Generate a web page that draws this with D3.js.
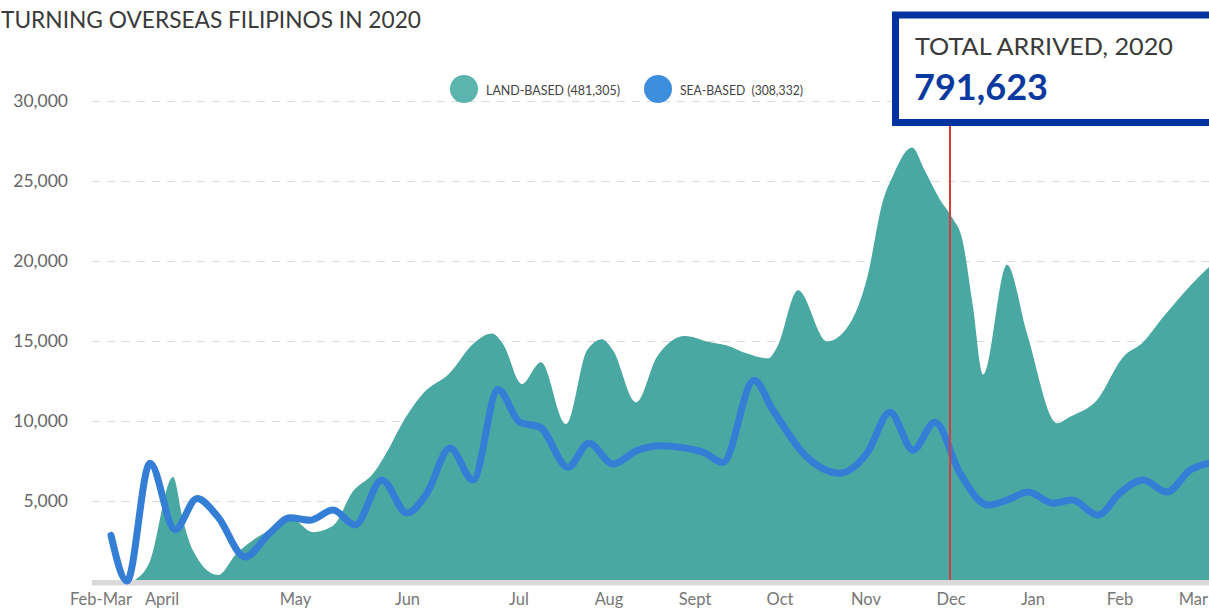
<!DOCTYPE html>
<html>
<head>
<meta charset="utf-8">
<script src="https://cdn.jsdelivr.net/npm/d3@7"></script>
<style>
  html, body { margin: 0; padding: 0; background: #fff; }
  svg { display: block; font-family: Lato, "Open Sans", sans-serif; }
</style>
</head>
<body>
<svg id="chart" width="1209" height="610"></svg>
<script>
// ---- Data (x positions in chart position units, values in persons) ----
const titleText = "TURNING OVERSEAS FILIPINOS IN 2020";
const monthLabels = ["Feb-Mar", "April", "May", "Jun", "Jul", "Aug", "Sept", "Oct", "Nov", "Dec", "Jan", "Feb", "Mar"];
const monthPos    = [0.1, 6.2, 19.55, 30.75, 41.9, 50.9, 59.5, 68.0, 76.6, 85.1, 93.3, 102.0, 110.0];
const yTicks = [5000, 10000, 15000, 20000, 25000, 30000];

const landPos = [3.3, 4.9, 7.3, 8.3, 9.3, 11.8, 13.7, 15.3, 17.0, 19.0, 21.3, 23.3, 25.3, 27.3, 29.0, 30.0, 32.3, 35.0, 37.3, 39.2, 40.3, 42.2, 44.1, 46.6, 48.7, 50.2, 51.3, 53.6, 55.7, 58.5, 61.0, 62.7, 64.7, 66.8, 67.7, 69.8, 72.7, 74.3, 76.7, 78.3, 79.3, 81.2, 82.5, 84.0, 85.2, 86.2, 87.3, 88.3, 90.7, 92.7, 95.7, 97.0, 99.7, 102.3, 104.3, 106.3, 110.9, 112.0];
const landVal = [0, 1100, 6500, 3800, 1900, 370, 1750, 2550, 3200, 3950, 3050, 3450, 5600, 6700, 8400, 9600, 11700, 13000, 14800, 15450, 14800, 12300, 13650, 9800, 14400, 15100, 14400, 11150, 14000, 15300, 14900, 14700, 14200, 13900, 14600, 18150, 14960, 15500, 18900, 23750, 25300, 27060, 25600, 23800, 22700, 21400, 17100, 12900, 19750, 15450, 9850, 10250, 11300, 13970, 14900, 16460, 19600, 20200];

const seaPos = [1.1, 2.7, 5.0, 7.5, 9.7, 11.8, 14.5, 17.0, 19.0, 21.0, 23.3, 25.5, 28.2, 30.7, 32.7, 35.0, 37.3, 39.8, 42.0, 44.0, 46.8, 48.9, 51.3, 53.7, 56.0, 60.3, 62.3, 65.4, 67.3, 70.7, 74.0, 76.7, 79.0, 81.3, 83.5, 86.0, 88.8, 90.7, 92.8, 95.3, 97.2, 99.8, 102.0, 104.3, 106.7, 109.0, 110.9, 112.0];
const seaVal = [2850, 0, 7350, 3200, 5150, 4000, 1500, 3000, 3950, 3800, 4430, 3500, 6300, 4240, 5490, 8300, 6300, 11950, 9900, 9600, 7100, 8600, 7300, 8150, 8450, 8050, 7400, 12530, 10660, 7730, 6730, 7980, 10540, 8170, 9910, 6730, 4740, 5050, 5550, 4860, 5050, 4110, 5490, 6300, 5550, 6920, 7360, 7500];

const legendLabels = ["LAND-BASED (481,305)", "SEA-BASED  (308,332)"];
const markerPos = 85.0;          // red reference line (Dec)
const totalLabel = "TOTAL ARRIVED, 2020";
const totalValue = 791623;

// ---- Layout ----
const W = 1209, H = 610;
const svg = d3.select("#chart");
const x = d3.scaleLinear().domain([0, 111]).range([100, 1210]);
const y = d3.scaleLinear().domain([0, 30000]).range([581, 100.5]);

const teal = "#4aa8a2", blue = "#347ed6";

// title
svg.append("text").attr("x", 1).attr("y", 28)
  .attr("font-size", 22.5).attr("fill", "#3a3a3a")
  .attr("textLength", 420).attr("lengthAdjust", "spacingAndGlyphs")
  .text(titleText);

// grid
const grid = svg.append("g");
grid.selectAll("line").data(yTicks).join("line")
  .attr("x1", 92).attr("x2", W)
  .attr("y1", d => Math.round(y(d)) + 0.5).attr("y2", d => Math.round(y(d)) + 0.5)
  .attr("stroke", "#dadada").attr("stroke-width", 1.2)
  .attr("stroke-dasharray", "8,7");

// y labels
svg.append("g").selectAll("text").data(yTicks).join("text")
  .attr("x", 68).attr("y", d => y(d) + 6)
  .attr("text-anchor", "end").attr("font-size", 17.5).attr("fill", "#666")
  .text(d3.format(","));

// land area
const landData = landPos.map((p, i) => [p, landVal[i]]);
svg.append("path").datum(landData)
  .attr("fill", teal)
  .attr("d", d3.area().curve(d3.curveMonotoneX)
    .x(d => x(d[0])).y0(y(0)).y1(d => y(d[1])));

// baseline bar
svg.append("rect").attr("x", 92).attr("y", 580).attr("width", W - 92).attr("height", 5.5)
  .attr("fill", "#d9d9d9");

// sea line
const seaData = seaPos.map((p, i) => [p, seaVal[i]]);
svg.append("path").datum(seaData)
  .attr("fill", "none").attr("stroke", blue).attr("stroke-width", 7)
  .attr("stroke-linecap", "round").attr("stroke-linejoin", "round")
  .attr("d", d3.line().curve(d3.curveMonotoneX).x(d => x(d[0])).y(d => y(d[1])));

// red reference line
svg.append("line").attr("x1", x(markerPos)).attr("x2", x(markerPos))
  .attr("y1", 122).attr("y2", 580)
  .attr("stroke", "#d93a3e").attr("stroke-width", 2);

// x labels (last one kept inside the frame)
const nLab = monthLabels.length;
svg.append("g").selectAll("text").data(monthLabels).join("text")
  .attr("x", (d, i) => i === nLab - 1 ? W - 1 : x(monthPos[i])).attr("y", 605)
  .attr("text-anchor", (d, i) => i === nLab - 1 ? "end" : "middle")
  .attr("font-size", 16.5).attr("fill", "#777")
  .text(d => d);

// legend
const legColors = ["#5bb5ae", "#3d8edd"];
const legX = [464, 658];
const legW = [134, 123];
const leg = svg.append("g");
legendLabels.forEach((lab, i) => {
  leg.append("circle").attr("cx", legX[i]).attr("cy", 89).attr("r", 14).attr("fill", legColors[i]);
  leg.append("text").attr("x", legX[i] + 22).attr("y", 94.5)
    .attr("font-size", 12.5).attr("fill", "#444").attr("xml:space", "preserve")
    .attr("textLength", legW[i]).attr("lengthAdjust", "spacingAndGlyphs")
    .text(lab);
});

// annotation box
svg.append("rect").attr("x", 895.5).attr("y", 15).attr("width", 340).attr("height", 107.5)
  .attr("fill", "#fff").attr("stroke", "#0033a0").attr("stroke-width", 7);
svg.append("text").attr("x", 915).attr("y", 55)
  .attr("font-size", 24).attr("fill", "#3a3a3a")
  .attr("textLength", 258).attr("lengthAdjust", "spacingAndGlyphs")
  .text(totalLabel);
svg.append("text").attr("x", 914).attr("y", 100)
  .attr("font-size", 36).attr("font-weight", "bold").attr("fill", "#0a3aa0")
  .attr("textLength", 134).attr("lengthAdjust", "spacingAndGlyphs")
  .text(d3.format(",")(totalValue));
</script>
</body>
</html>
